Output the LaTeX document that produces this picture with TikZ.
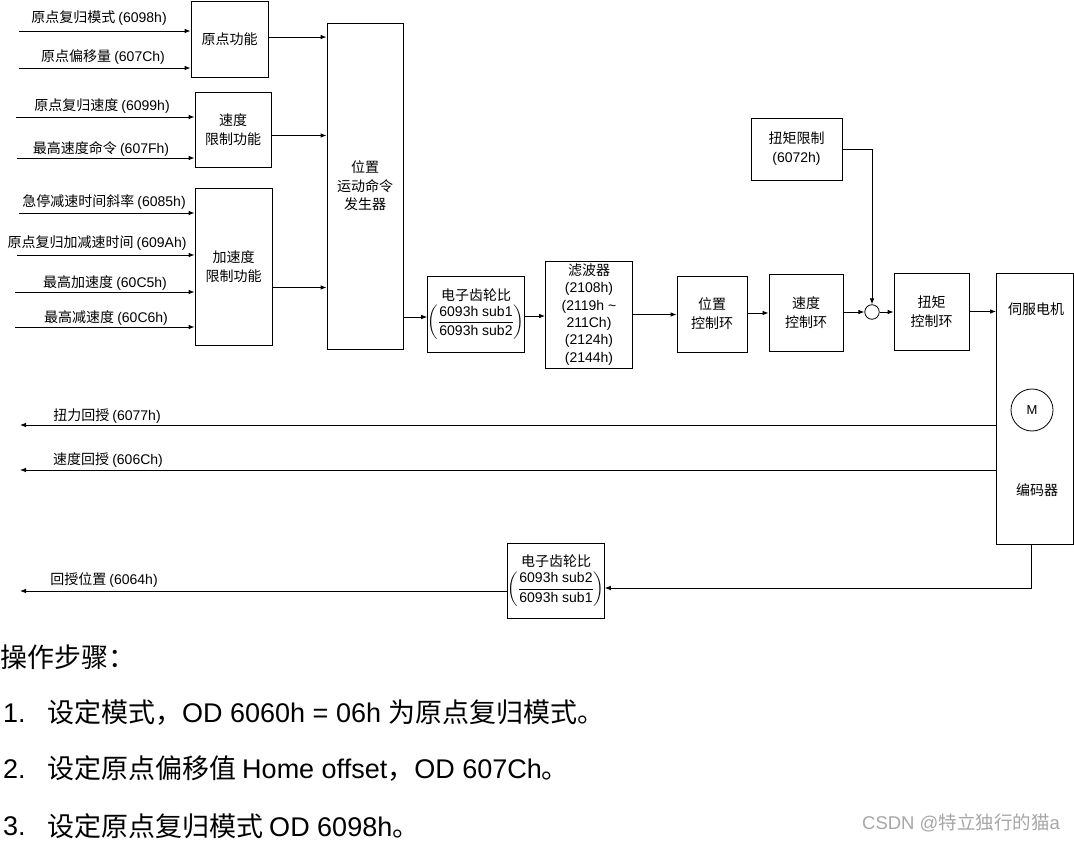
\documentclass[tikz,border=0pt]{standalone}
\usepackage{amsmath}
\usepackage{fontspec}
\setmainfont{Liberation Sans}
\newfontfamily\cjkfont{Noto Sans CJK SC}
\newfontfamily\latfont{Liberation Sans}
\newXeTeXintercharclass\cjkclass
\makeatletter
\count@="4E00
\loop
  \XeTeXcharclass\count@=\cjkclass
  \ifnum\count@<"9FFF \advance\count@ by 1 \repeat
\makeatother
\XeTeXcharclass"FF0C=\cjkclass
\XeTeXcharclass"FF1A=\cjkclass
\XeTeXcharclass"3002=\cjkclass
\XeTeXinterchartoks 0 \cjkclass = {\cjkfont}
\XeTeXinterchartoks 4095 \cjkclass = {\cjkfont}
\XeTeXinterchartoks \cjkclass 0 = {\latfont}
\XeTeXinterchartoks 4095 0 = {\latfont}
\XeTeXinterchartokenstate=1
\usetikzlibrary{arrows.meta}
\newcommand{\gearfrac}[2]{$\biggl(\genfrac{}{}{0.6pt}{0}{\mbox{#1}}{\mbox{#2}}\biggr)$}
\begin{document}
\begin{tikzpicture}[x=1pt,y=-1pt,
  blk/.style={draw, line width=0.8pt, align=center, inner sep=0pt, font=\fontsize{14}{19}\selectfont},
  arr/.style={line width=0.8pt, -{Latex[length=6pt,width=4.5pt]}},
  lbl/.style={font=\fontsize{14}{16}\selectfont, inner sep=0pt},
  big/.style={font=\fontsize{27}{30}\selectfont, inner sep=0pt, anchor=west},
]
\useasboundingbox (0,0) rectangle (1074,842);

% ---- blocks ----
\node[blk, minimum width=77pt, minimum height=76pt] (A) at (229.5,39) {原点功能};
\node[blk, minimum width=76pt, minimum height=75pt] (B) at (233,129.5) {速度\\限制功能};
\node[blk, minimum width=77pt, minimum height=157pt] (C) at (233.5,266.5) {加速度\\限制功能};
\node[blk, minimum width=76pt, minimum height=326pt, font=\fontsize{14}{18.5}\selectfont] (P) at (365,186) {位置\\运动命令\\发生器};
\node[blk, minimum width=90pt, minimum height=76pt] (G1) at (476,314)
  {电子齿轮比\\[3pt]\gearfrac{6093h sub1}{6093h sub2}};
\node[blk, minimum width=87pt, minimum height=107pt, font=\fontsize{14}{17.3}\selectfont] (F) at (589,314.5)
  {滤波器\\(2108h)\\(2119h \textasciitilde\\211Ch)\\(2124h)\\(2144h)};
\node[blk, minimum width=70pt, minimum height=76pt] (PC) at (712,314) {位置\\控制环};
\node[blk, minimum width=74pt, minimum height=77pt] (VC) at (806,312.5) {速度\\控制环};
\node[blk, minimum width=91pt, minimum height=62pt] (TL) at (796.5,149) {扭矩限制\\(6072h)};
\node[draw, line width=0.8pt, circle, minimum size=14.5pt, inner sep=0pt] (S) at (872,312) {};
\node[blk, minimum width=75pt, minimum height=77pt] (TC) at (931.5,311.5) {扭矩\\控制环};
\node[draw, line width=0.8pt, minimum width=77pt, minimum height=271pt, inner sep=0pt] (M) at (1035,408.5) {};
\node[lbl] (Mt) at (1036,309) {伺服电机};
\node[draw, line width=0.8pt, circle, minimum size=42pt, inner sep=0pt, font=\fontsize{13}{15}\selectfont] (Mc) at (1032,410) {M};
\node[lbl] (Enc) at (1037,490) {编码器};
\node[blk, minimum width=91pt, minimum height=75pt] (G2) at (556,580.5)
  {电子齿轮比\\[3pt]\gearfrac{6093h sub2}{6093h sub1}};

% ---- inputs ----
\coordinate (i1) at (19,31);  \node[lbl] (l1) at (99,18)  {原点复归模式 (6098h)};
\coordinate (i2) at (19,68);  \node[lbl] (l2) at (103,57) {原点偏移量 (607Ch)};
\coordinate (i3) at (16,117); \node[lbl] (l3) at (102,106) {原点复归速度 (6099h)};
\coordinate (i4) at (17,158); \node[lbl] (l4) at (101,149) {最高速度命令 (607Fh)};
\coordinate (i5) at (19,213); \node[lbl] (l5) at (104,202) {急停减速时间斜率 (6085h)};
\coordinate (i6) at (17,255); \node[lbl] (l6) at (97,243)  {原点复归加减速时间 (609Ah)};
\coordinate (i7) at (15,292); \node[lbl] (l7) at (105,283) {最高加速度 (60C5h)};
\coordinate (i8) at (15,327); \node[lbl] (l8) at (106,318) {最高减速度 (60C6h)};
\draw[arr] (i1) -- (i1 -| A.west);
\draw[arr] (i2) -- (i2 -| A.west);
\draw[arr] (i3) -- (i3 -| B.west);
\draw[arr] (i4) -- (i4 -| B.west);
\draw[arr] (i5) -- (i5 -| C.west);
\draw[arr] (i6) -- (i6 -| C.west);
\draw[arr] (i7) -- (i7 -| C.west);
\draw[arr] (i8) -- (i8 -| C.west);

% ---- forward chain ----
\draw[arr] ([yshift=2pt]A.east) -- ([yshift=2pt]A.east -| P.west);
\draw[arr] ([yshift=-6pt]B.east) -- ([yshift=-6pt]B.east -| P.west);
\draw[arr] ([yshift=-21pt]C.east) -- ([yshift=-21pt]C.east -| P.west);
\draw[arr] ([yshift=-3pt]G1.west -| P.east) -- ([yshift=-3pt]G1.west);
\draw[arr] ([yshift=-2pt]G1.east) -- ([yshift=-2pt]G1.east -| F.west);
\draw[arr] (F.east) -- (F.east -| PC.west);
\draw[arr] ([yshift=1pt]PC.east) -- ([yshift=1pt]PC.east -| VC.west);
\draw[arr] (S.west -| VC.east) -- (S.west);
\draw[arr] (S.east) -- (S.east -| TC.west);
\draw[arr] (TC.east) -- (TC.east -| M.west);
\draw[arr] (TL.east) -| (S.north);

% ---- feedback ----
\coordinate (f1) at (20,425);
\coordinate (f2) at (20,470);
\coordinate (f3) at (20,591);
\draw[arr] (f1 -| M.west) -- (f1);
\draw[arr] (f2 -| M.west) -- (f2);
\draw[arr] (f3 -| G2.west) -- (f3);
\node[lbl] (b1) at (107,416) {扭力回授 (6077h)};
\node[lbl] (b2) at (108,460) {速度回授 (606Ch)};
\node[lbl] (b3) at (104,580) {回授位置 (6064h)};
\draw[arr] ([xshift=-4pt]M.south) |- ([yshift=-7.5pt]G2.east);

% ---- steps ----
\node[big] (s0) at (0,657) {操作步骤：};
\node[big] (n1) at (3,713) {1.};
\node[big] (t1) at (47,713) {设定模式，OD 6060h = 06h 为原点复归模式。};
\node[big] (n2) at (3,769) {2.};
\node[big] (t2) at (47,769) {设定原点偏移值 Home offset，OD 607Ch。};
\node[big] (n3) at (3,826) {3.};
\node[big] (t3) at (47,826) {设定原点复归模式 OD 6098h。};
\node[font=\fontsize{18.5}{20}\selectfont, text=black!35, inner sep=0pt, anchor=east] (wm) at (1060,823) {CSDN @特立独行的猫a};
\end{tikzpicture}
\end{document}
